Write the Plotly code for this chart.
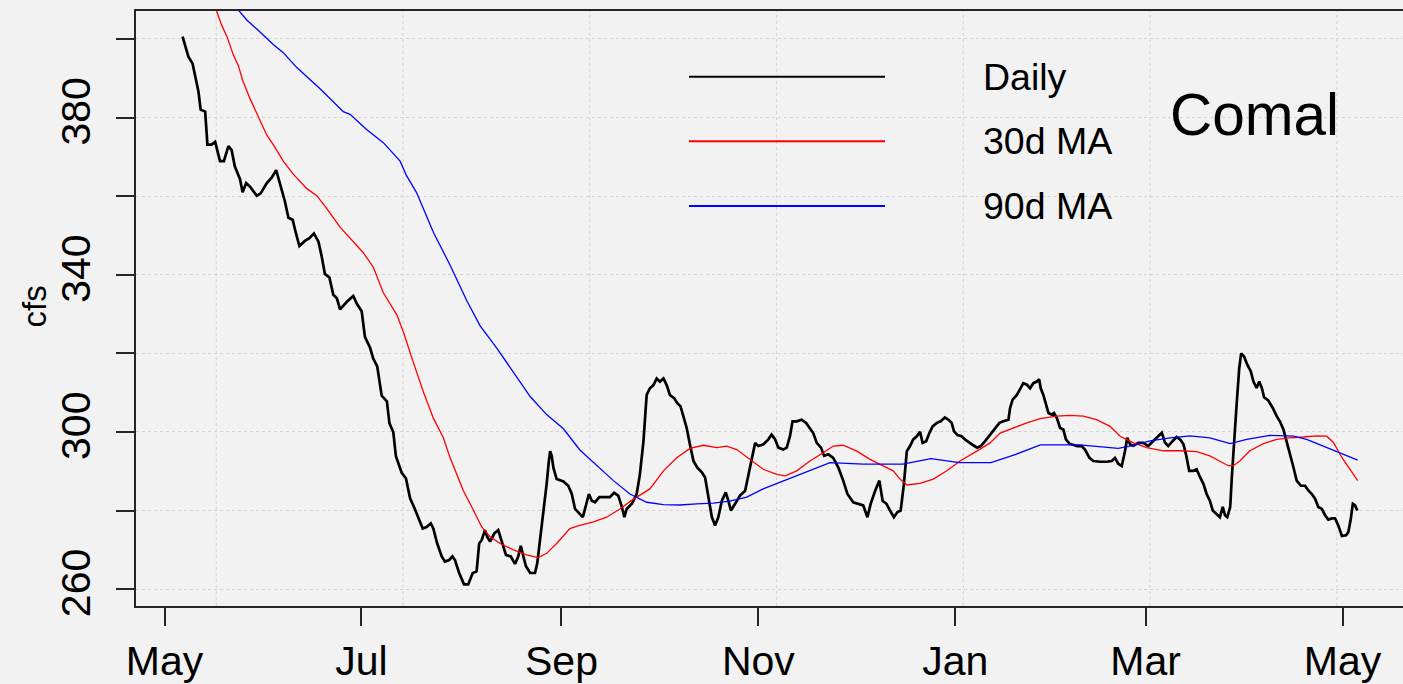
import plotly.graph_objects as go
import pandas as pd

# ---------------- data (days after 2017-05-01, flow in cfs) ----------------
BASE = pd.Timestamp("2017-05-01")

daily_day = [
    5.6, 6.4, 7.4, 8.7, 9.5, 10.5, 11.2, 12.6, 13.3, 14.6,
    15.7, 17.2, 18.4, 19.8, 20.8, 21.8, 23.4, 24.2, 25.3, 26.5,
    28.6, 29.8, 31.7, 33.2, 34.6, 35.8, 37.3, 38.4, 39.7, 40.8,
    41.8, 43.5, 44.9, 46.3, 47.7, 48.7, 49.7, 51.1, 52.3, 53.4,
    54.4, 56.5, 58.5, 59.6, 61.1, 62.1, 63.7, 64.7, 65.9, 67.3,
    68.9, 69.7, 70.9, 71.7, 73.5, 74.8, 76.1, 77.6, 79.0, 80.0,
    81.2, 82.5, 83.3, 84.5, 85.9, 86.9, 88.2, 89.2, 90.0, 91.3,
    92.8, 94.1, 95.5, 96.7, 97.5, 98.3, 99.3, 100.0, 100.9, 102.2,
    103.4, 104.5, 105.8, 107.3, 108.6, 109.6, 110.4, 111.2, 112.0, 113.3,
    114.8, 115.5, 116.4, 117.4, 118.4, 119.1, 119.5, 120.0, 120.5, 121.5,
    123.6, 125.1, 126.2, 127.2, 128.2, 129.6, 130.3, 131.5, 132.4, 133.4,
    134.7, 136.5, 138.0, 139.3, 140.6, 141.7, 142.5, 143.2, 144.8, 146.3,
    147.3, 148.4, 149.4, 150.4, 151.5, 152.5, 153.5, 154.6, 155.6, 156.6,
    157.9, 158.9, 159.9, 160.8, 161.8, 162.8, 163.9, 165.1, 166.5, 167.5,
    168.2, 168.8, 169.6, 170.6, 171.6, 172.7, 173.9, 174.7, 175.5, 176.8,
    178.3, 179.9, 180.9, 181.9, 183.0, 184.0, 185.5, 187.1, 188.1, 189.2,
    190.2, 191.7, 192.8, 193.8, 194.6, 195.9, 197.4, 198.8, 200.0, 201.0,
    202.1, 203.4, 204.4, 205.7, 207.2, 208.8, 210.3, 211.6, 213.4, 215.0,
    216.5, 217.8, 218.8, 220.2, 221.5, 222.5, 223.7, 224.8, 226.0, 227.1,
    228.1, 229.1, 230.0, 231.0, 232.0, 233.1, 234.1, 234.9, 236.0, 237.0,
    238.0, 239.3, 240.5, 241.8, 242.9, 243.9, 244.6, 245.7, 247.0, 248.0,
    249.4, 250.6, 251.8, 252.9, 254.2, 255.8, 257.3, 258.7, 259.9, 261.5,
    262.0, 262.8, 264.1, 265.1, 266.1, 267.2, 268.2, 269.2, 270.3, 271.0,
    271.5, 272.3, 273.1, 273.9, 274.9, 275.6, 276.5, 277.5, 278.5, 279.3,
    280.4, 281.6, 282.8, 284.2, 285.2, 286.6, 287.8, 289.9, 291.9, 293.5,
    294.5, 295.5, 296.6, 297.6, 298.3, 299.2, 300.2, 301.7, 303.3, 304.8,
    305.9, 307.4, 309.0, 310.0, 311.0, 312.4, 313.6, 314.7, 315.7, 316.5,
    317.5, 318.8, 319.8, 320.9, 321.9, 322.9, 323.9, 324.8, 326.0, 327.0,
    327.9, 328.6, 329.3, 330.2, 330.7, 331.4, 332.2, 333.0, 333.6, 334.5,
    335.5, 336.6, 337.4, 338.4, 339.2, 340.0, 340.7, 342.0, 343.4, 344.6,
    345.6, 346.7, 347.7, 348.7, 349.8, 350.8, 352.1, 353.4, 354.4, 355.5,
    356.5, 357.5, 358.6, 359.6, 360.6, 361.7, 362.7, 363.7, 364.8, 366.1,
    366.8, 367.5, 368.2, 368.9, 369.6,
]
daily_cfs = [
    400.6, 398.0, 395.5, 393.7, 390.9, 386.7, 382.0, 381.5, 373.1, 373.1,
    373.8, 368.9, 368.9, 372.7, 371.7, 367.5, 364.3, 361.0, 363.3, 362.4,
    360.1, 360.7, 363.3, 364.7, 366.6, 363.3, 358.7, 354.5, 354.0, 350.3,
    347.3, 348.6, 349.3, 350.5, 348.4, 344.7, 340.2, 339.3, 334.9, 334.0,
    331.2, 333.1, 334.6, 332.6, 330.7, 324.2, 321.4, 318.6, 316.7, 309.2,
    307.8, 302.2, 299.9, 293.8, 289.6, 288.2, 283.1, 280.3, 277.5, 275.4,
    275.8, 276.7, 275.4, 271.6, 268.3, 267.0, 267.4, 268.3, 267.4, 264.1,
    261.2, 261.2, 264.1, 264.5, 271.6, 272.5, 275.0, 273.3, 272.1, 274.2,
    275.0, 272.1, 268.7, 268.3, 266.4, 268.3, 271.0, 268.3, 265.8, 264.1,
    264.1, 266.6, 272.5, 279.2, 286.7, 292.6, 295.1, 293.8, 290.9, 288.0,
    287.4, 286.3, 284.2, 280.4, 279.6, 278.3, 280.4, 284.2, 282.5, 282.1,
    283.4, 283.4, 283.4, 284.5, 283.8, 280.9, 278.3, 280.4, 281.7, 284.2,
    289.2, 297.6, 309.4, 311.1, 311.9, 313.6, 312.8, 313.6, 311.9, 309.4,
    308.6, 307.3, 306.5, 303.9, 301.0, 296.8, 292.6, 290.9, 289.7, 288.4,
    285.0, 281.7, 278.3, 276.2, 278.3, 282.5, 284.6, 282.5, 280.0, 281.7,
    283.8, 285.0, 289.2, 292.6, 297.2, 296.4, 296.8, 298.1, 299.3, 298.1,
    296.0, 295.5, 296.0, 298.9, 302.7, 302.7, 303.1, 302.3, 301.0, 299.7,
    297.2, 296.0, 293.9, 294.3, 293.4, 290.9, 287.6, 284.2, 282.1, 281.7,
    281.3, 278.3, 281.7, 285.0, 287.6, 282.5, 281.7, 280.0, 278.3, 279.6,
    280.0, 286.7, 295.1, 296.4, 298.1, 298.9, 300.0, 297.2, 297.6, 299.7,
    301.4, 302.3, 302.7, 303.7, 303.1, 302.3, 300.2, 299.2, 298.9, 298.1,
    297.2, 296.6, 296.0, 296.4, 297.6, 299.2, 300.8, 302.3, 302.7, 303.1,
    306.1, 308.2, 309.4, 311.1, 312.4, 312.0, 311.1, 312.4, 312.8, 313.4,
    311.1, 309.4, 306.9, 304.8, 304.4, 304.8, 303.5, 301.0, 300.6, 298.1,
    297.0, 296.6, 296.4, 296.4, 295.5, 293.4, 292.6, 292.4, 292.4, 292.6,
    293.4, 291.9, 291.3, 295.1, 298.5, 296.8, 296.5, 297.2, 297.2, 296.4,
    297.3, 298.5, 299.8, 297.3, 296.4, 297.7, 298.7, 298.1, 296.9, 294.3,
    290.1, 290.1, 290.5, 288.4, 286.8, 284.2, 282.5, 280.0, 279.2, 278.3,
    280.9, 278.8, 278.3, 280.9, 288.4, 298.5, 307.0, 316.2, 320.0, 319.2,
    317.1, 315.4, 312.8, 311.2, 312.8, 311.2, 308.8, 308.0, 306.1, 304.0,
    302.7, 300.6, 297.7, 294.7, 291.0, 287.6, 286.3, 286.3, 285.1, 284.2,
    283.0, 280.9, 280.4, 278.8, 277.7, 278.0, 278.0, 276.2, 273.5, 273.7,
    274.5, 277.5, 281.7, 281.3, 280.0,
]

ma30_day = [
    15.3, 17.7, 19.3, 21.3, 22.9, 24.2, 26.5, 29.1, 31.7, 33.7,
    36.8, 39.9, 44.1, 47.2, 50.3, 54.4, 58.5, 61.6, 64.7, 67.8,
    72.0, 74.0, 77.1, 80.2, 83.3, 86.4, 88.5, 90.5, 92.6, 95.2,
    98.3, 100.9, 104.0, 108.1, 112.2, 115.8, 118.4, 121.5, 125.6, 128.7,
    132.9, 137.0, 141.1, 145.3, 150.4, 154.6, 158.7, 162.8, 167.0, 171.1,
    174.2, 177.3, 181.4, 185.5, 189.7, 192.3, 195.9, 200.0, 204.1, 207.2,
    210.3, 214.5, 218.6, 222.7, 225.8, 227.9, 230.0, 234.1, 238.2, 242.4,
    246.5, 251.7, 255.8, 258.9, 263.0, 267.2, 271.3, 276.5, 280.6, 284.7,
    288.8, 293.0, 296.1, 300.2, 304.3, 309.5, 314.7, 319.8, 323.9, 327.0,
    329.6, 331.2, 333.2, 336.3, 340.5, 344.6, 348.7, 352.9, 357.0, 360.1,
    362.2, 364.8, 367.3, 369.7,
]
ma30_cfs = [
    409.0, 403.5, 400.7, 396.0, 393.2, 389.5, 384.8, 380.1, 375.5, 373.1,
    368.9, 365.6, 361.9, 360.1, 356.8, 352.1, 348.4, 345.6, 341.9, 335.4,
    329.8, 325.5, 317.7, 310.2, 303.5, 298.5, 293.4, 289.2, 285.0, 280.9,
    275.8, 273.3, 271.6, 270.0, 268.7, 268.0, 269.1, 271.6, 275.4, 276.2,
    277.1, 278.3, 280.4, 282.9, 285.5, 290.1, 293.4, 295.8, 296.6, 296.0,
    296.4, 295.5, 293.0, 290.5, 289.2, 288.8, 290.1, 292.6, 294.7, 296.4,
    296.6, 295.1, 293.0, 291.3, 290.1, 288.0, 286.5, 286.9, 288.0, 290.1,
    292.6, 295.1, 297.2, 299.7, 301.0, 302.3, 303.4, 304.0, 304.2, 304.0,
    303.1, 301.4, 298.9, 297.2, 296.0, 295.2, 295.2, 295.0, 293.9, 292.6,
    291.4, 291.4, 292.6, 295.2, 297.0, 298.1, 298.5, 298.7, 299.0, 298.9,
    297.3, 293.5, 290.5, 287.6,
]

ma90_day = [
    22.2, 25.5, 28.6, 33.7, 36.8, 41.0, 48.2, 55.4, 57.5, 62.7,
    67.8, 73.0, 75.0, 78.1, 83.3, 88.5, 93.6, 97.8, 102.9, 108.1,
    113.3, 118.4, 123.6, 128.7, 133.9, 139.1, 144.2, 149.4, 154.6, 159.7,
    164.9, 170.0, 175.2, 180.4, 185.5, 190.7, 195.9, 201.0, 206.2, 211.4,
    216.5, 221.7, 228.8, 237.5, 246.3, 256.1, 263.8, 271.4, 283.5, 295.5,
    299.2, 305.4, 311.6, 317.8, 323.9, 330.2, 335.3, 342.5, 349.8, 353.9,
    359.1, 364.2, 369.7,
]
ma90_cfs = [
    408.0, 404.8, 402.5, 398.6, 396.5, 392.7, 387.3, 381.5, 380.8, 376.9,
    373.6, 368.9, 365.2, 360.9, 350.8, 342.4, 333.5, 327.0, 321.4, 315.2,
    309.0, 304.4, 300.8, 295.4, 291.4, 287.6, 284.2, 282.1, 281.5, 281.4,
    281.7, 281.9, 282.4, 283.4, 285.5, 287.2, 288.9, 290.5, 292.2, 292.0,
    291.8, 291.8, 291.8, 293.2, 292.2, 292.2, 294.3, 296.7, 296.7, 295.8,
    296.4, 297.7, 298.5, 299.0, 298.5, 297.0, 298.1, 299.1, 298.9, 298.1,
    296.4, 294.7, 292.8,
]

x_tick_dates = ["2017-05-01", "2017-07-01", "2017-09-01", "2017-11-01",
                "2018-01-01", "2018-03-01", "2018-05-01"]
x_tick_text = ["May", "Jul", "Sep", "Nov", "Jan", "Mar", "May"]
y_tick_vals = [260, 280, 300, 320, 340, 360, 380, 400]
y_tick_text = ["260", "", "300", "", "340", "", "380", ""]

series_names = ["Daily", "30d MA", "90d MA"]
series_colors = ["#000000", "#ff0000", "#0000ff"]
title_text = "Comal"
y_label = "cfs"

# ---------------- layout geometry ----------------
W, H = 1403, 684
L, T, B, R = 136, 11, 75, 0
PW, PH = W - L - R, H - T - B
FONT = "Liberation Sans, Arial, sans-serif"
BG = "#f2f2f2"
PX_PER_DAY = 3.2274
MAY1_PX = 164.5


def to_dates(days):
    return [BASE + pd.Timedelta(days=d) for d in days]


def px_to_date(px):
    return BASE + pd.Timedelta(days=(px - MAY1_PX) / PX_PER_DAY)


def fx(px):
    return (px - L) / PW


def fy(py):
    return (H - B - py) / PH


fig = go.Figure()
fig.add_trace(go.Scatter(x=to_dates(daily_day), y=daily_cfs, mode="lines",
                         line=dict(color=series_colors[0], width=2.7),
                         name=series_names[0], showlegend=False))
fig.add_trace(go.Scatter(x=to_dates(ma30_day), y=ma30_cfs, mode="lines",
                         line=dict(color=series_colors[1], width=1.3),
                         name=series_names[1], showlegend=False))
fig.add_trace(go.Scatter(x=to_dates(ma90_day), y=ma90_cfs, mode="lines",
                         line=dict(color=series_colors[2], width=1.3),
                         name=series_names[2], showlegend=False))

shapes = []
# vertical grid lines (R grid() positions: multiples of 5e6 s)
x_lo, x_hi = px_to_date(L), px_to_date(W - R)
for k in range(290, 315):
    t = pd.Timestamp(k * 5_000_000, unit="s") - pd.Timedelta(hours=5)
    if x_lo < t < x_hi:
        shapes.append(dict(type="line", xref="x", yref="paper", x0=t, x1=t,
                           y0=0, y1=1, layer="below",
                           line=dict(color="#d3d3d3", width=1, dash="dot")))

# legend (drawn manually like R's legend, bty="n")
legend_y = [77, 142, 207]
annotations = []
for name, col, ly in zip(series_names, series_colors, legend_y):
    shapes.append(dict(type="line", xref="paper", yref="paper",
                       x0=fx(689), x1=fx(885), y0=fy(ly), y1=fy(ly),
                       line=dict(color=col, width=2)))
    annotations.append(dict(text=name, xref="paper", yref="paper",
                            x=fx(981), y=fy(ly), xanchor="left", yanchor="middle",
                            showarrow=False, font=dict(family=FONT, size=37.5, color="black")))

annotations.append(dict(text=title_text, xref="paper", yref="paper",
                        x=fx(1254), y=fy(115), xanchor="center", yanchor="middle",
                        showarrow=False, font=dict(family=FONT, size=58.5, color="black")))
annotations.append(dict(text=y_label, xref="paper", yref="paper",
                        x=fx(35), y=fy(308), xanchor="center", yanchor="middle",
                        textangle=-90, showarrow=False,
                        font=dict(family=FONT, size=33, color="black")))

fig.update_layout(
    width=W, height=H,
    margin=dict(l=L, r=R, t=T, b=B, pad=0),
    paper_bgcolor=BG, plot_bgcolor=BG,
    showlegend=False,
    shapes=shapes, annotations=annotations,
    font=dict(family=FONT, color="black"),
    xaxis=dict(
        type="date",
        range=[x_lo, x_hi],
        tickvals=pd.to_datetime(x_tick_dates), ticktext=x_tick_text,
        ticks="outside", ticklen=18, tickwidth=1.5, tickcolor="#262626",
        tickfont=dict(family=FONT, size=41, color="black"),
        showgrid=False, zeroline=False,
        showline=True, linecolor="#262626", linewidth=1.5, mirror=True,
    ),
    yaxis=dict(
        range=[255.7, 407.1],
        tickvals=y_tick_vals, ticktext=y_tick_text, tickangle=-90,
        ticks="outside", ticklen=18, tickwidth=1.5, tickcolor="#262626",
        tickfont=dict(family=FONT, size=41, color="black"),
        ticklabelstandoff=10,
        showgrid=True, gridcolor="#d3d3d3", gridwidth=1, griddash="dot",
        zeroline=False,
        showline=True, linecolor="#262626", linewidth=1.5, mirror=False,
    ),
)

fig.write_html(
    "out.html",
    config={"displayModeBar": False},
    post_script=("document.body.style.margin='0';"
                 "document.body.style.padding='0';"
                 "document.body.style.overflow='hidden';"
                 "document.body.style.background='" + BG + "';"),
)
